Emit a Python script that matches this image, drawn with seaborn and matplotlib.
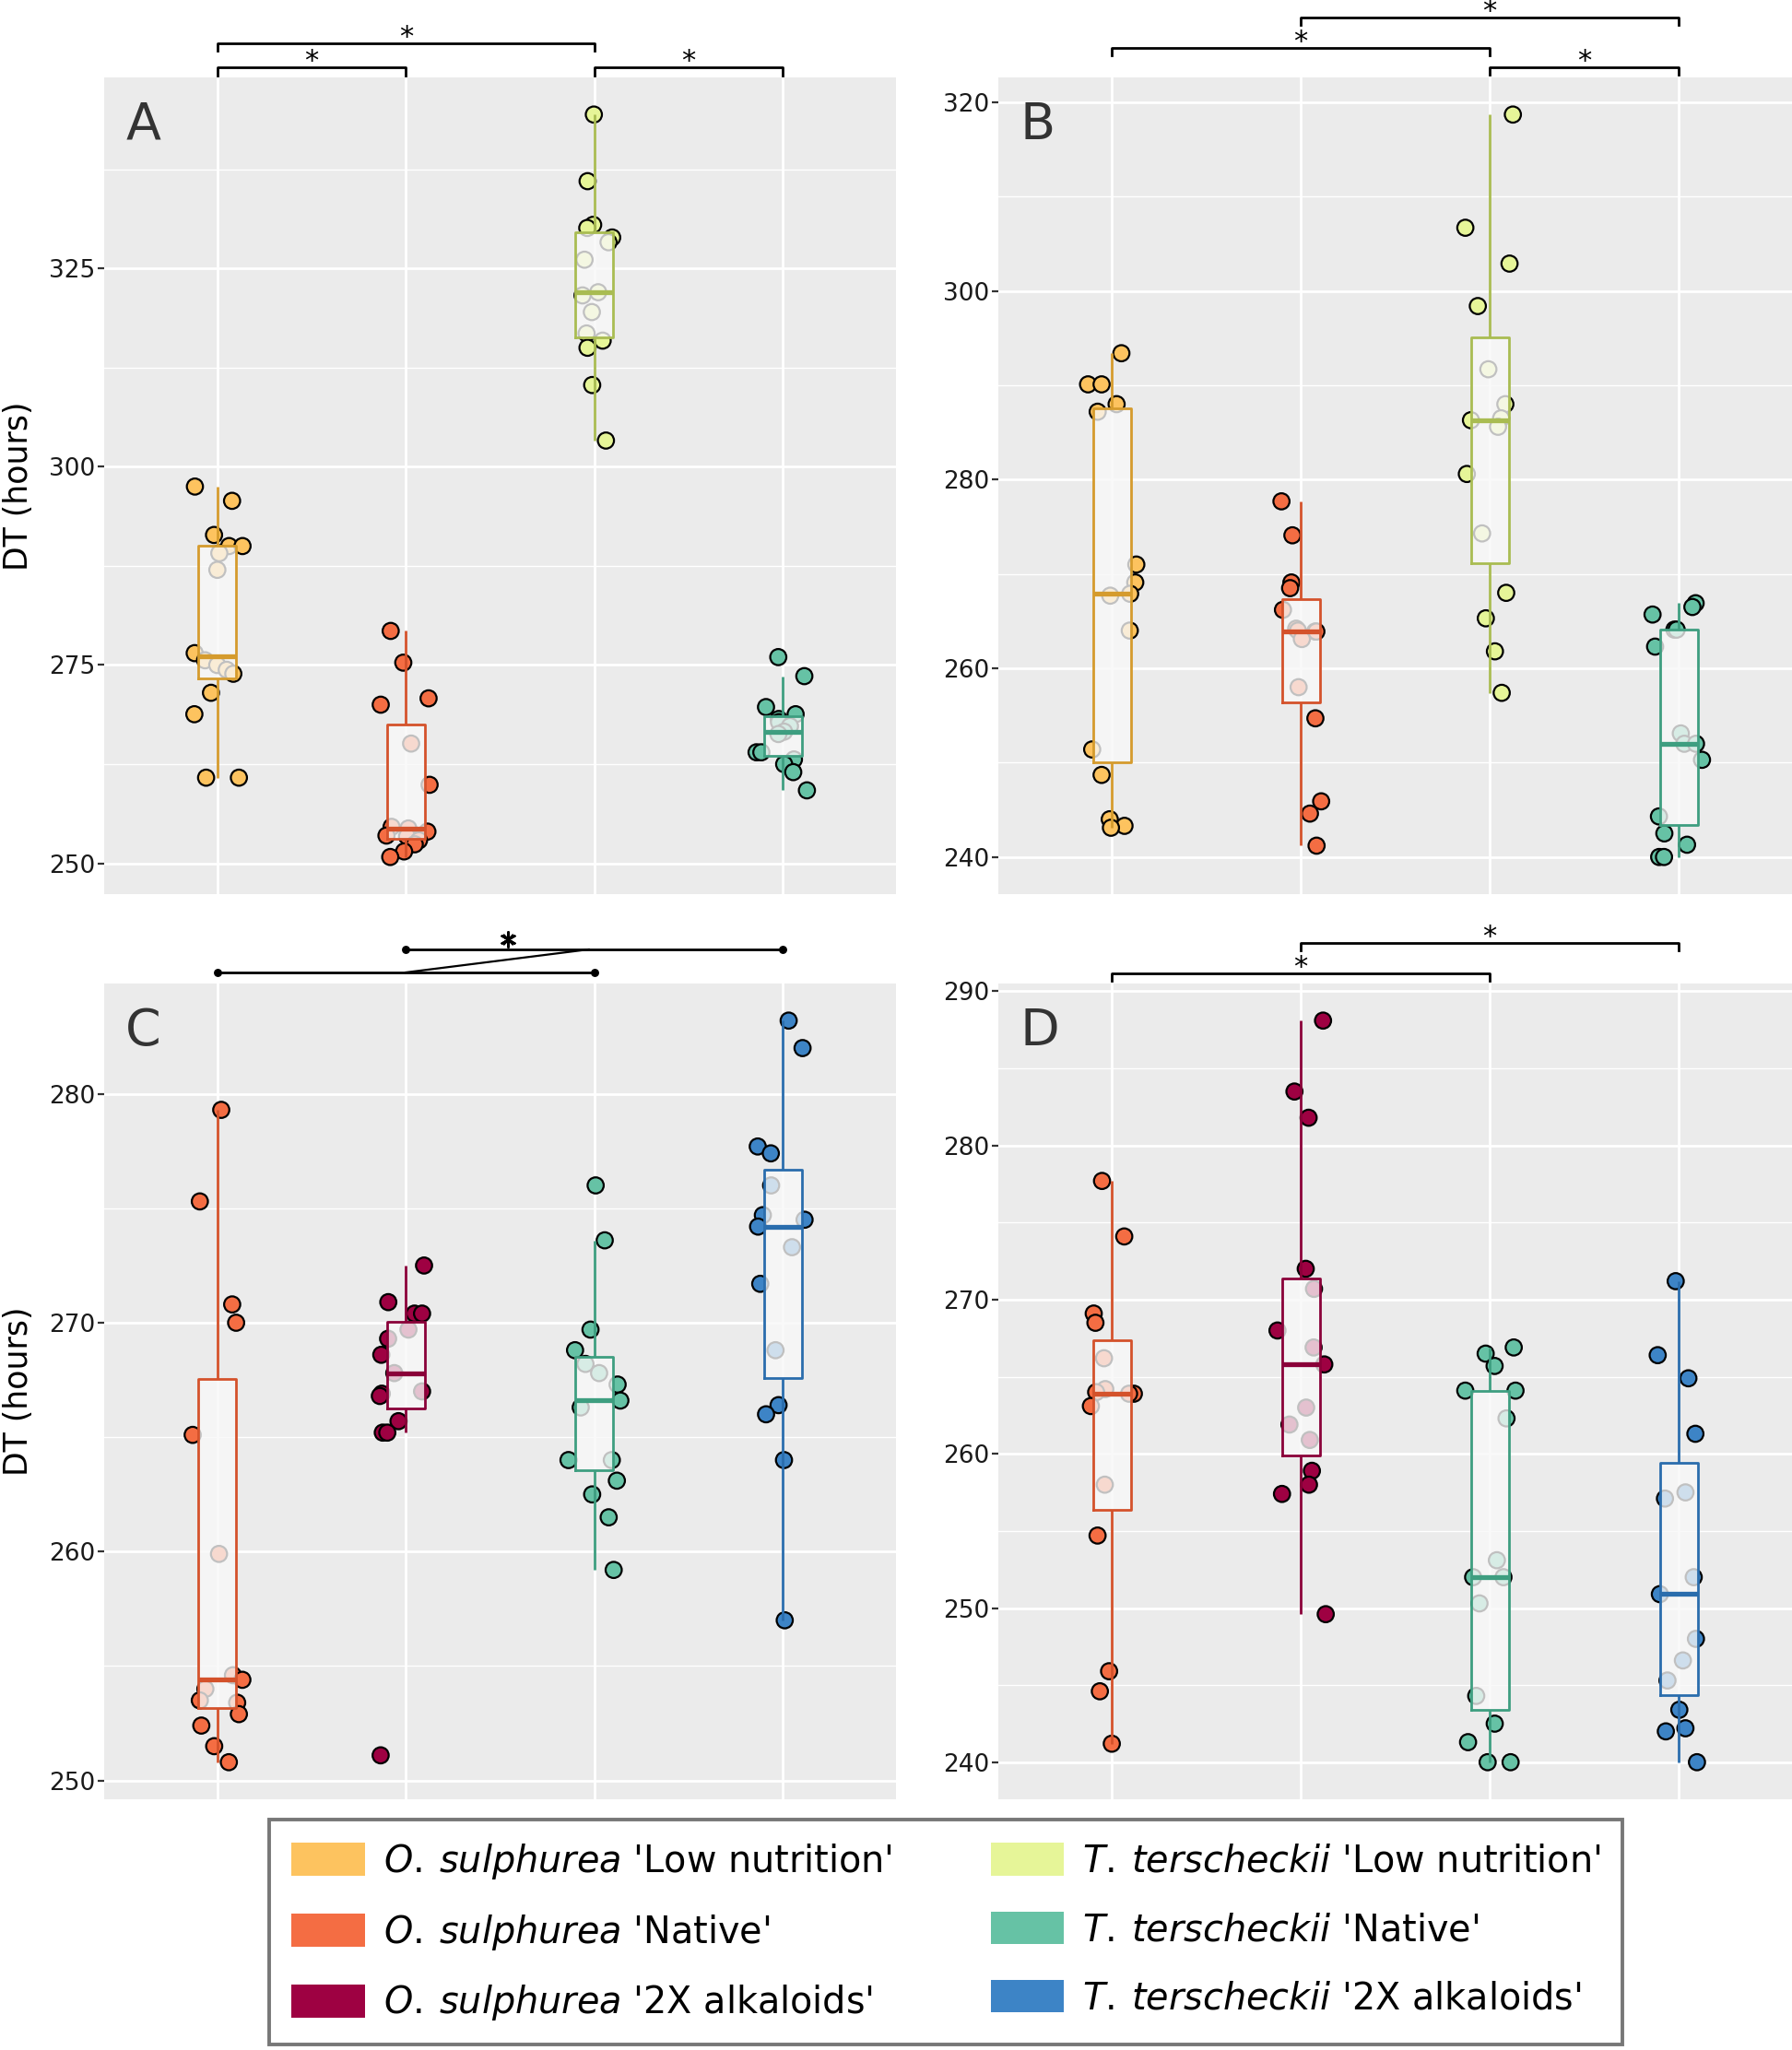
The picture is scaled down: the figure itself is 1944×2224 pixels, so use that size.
import numpy as np
import pandas as pd
import matplotlib.pyplot as plt
import matplotlib.transforms as mtransforms
from matplotlib.patches import Patch
from matplotlib.ticker import MultipleLocator
import seaborn as sns

np.random.seed(7)

# group names / colours
os_low = "O. sulphurea 'Low nutrition'"
os_nat = "O. sulphurea 'Native'"
os_2x = "O. sulphurea '2X alkaloids'"
tt_low = "T. terscheckii 'Low nutrition'"
tt_nat = "T. terscheckii 'Native'"
tt_2x = "T. terscheckii '2X alkaloids'"

fill_cols = {os_low: '#FDC35F', os_nat: '#F46D43', os_2x: '#9E0142',
             tt_low: '#E6F598', tt_nat: '#66C2A5', tt_2x: '#3D84C6'}
edge_cols = {os_low: '#D59B2D', os_nat: '#D4522B', os_2x: '#8A0039',
             tt_low: '#A9BC52', tt_nat: '#3E9E80', tt_2x: '#2A6DAD'}

# DT (hours), panels A / C
os_low_ac = [297.5, 295.7, 291.4, 290.0, 290.0, 289.1, 287.0, 276.5, 275.6, 275.0,
             274.4, 273.9, 271.5, 268.8, 260.8, 260.8]
os_nat_ac = [279.3, 275.3, 270.8, 270.0, 265.1, 259.9, 254.6, 254.4, 254.0, 253.5,
             253.4, 252.9, 252.4, 251.5, 250.8]
tt_low_ac = [344.4, 336.0, 330.5, 330.1, 328.9, 328.3, 326.1, 322.0, 321.6, 319.5,
             316.8, 315.9, 315.0, 310.3, 303.3]
tt_nat_ac = [276.0, 273.6, 269.7, 268.8, 268.2, 267.8, 267.3, 266.6, 266.3, 264.0,
             264.0, 263.1, 262.5, 261.5, 259.2]
os_2x_c = [272.5, 270.9, 270.4, 270.4, 269.7, 269.3, 268.6, 267.8, 267.0, 266.9,
           266.8, 265.7, 265.2, 265.2, 251.1]
tt_2x_c = [283.2, 282.0, 277.7, 277.4, 276.0, 274.7, 274.5, 274.2, 273.3, 271.7,
           268.8, 266.4, 266.0, 264.0, 257.0]

# DT (hours), panels B / D
os_low_bd = [293.4, 290.1, 290.1, 288.0, 287.2, 271.0, 269.1, 267.9, 267.7, 264.0,
             251.4, 248.7, 244.0, 243.3, 243.1]
os_nat_bd = [277.7, 274.1, 269.1, 268.5, 266.2, 264.2, 264.0, 263.9, 263.9, 263.1,
             258.0, 254.7, 245.9, 244.6, 241.2]
tt_low_bd = [318.7, 306.7, 302.9, 298.4, 291.7, 288.0, 286.5, 286.3, 285.6, 280.6,
             274.3, 268.0, 265.3, 261.8, 257.4]
tt_nat_bd = [266.9, 266.5, 265.7, 264.1, 264.1, 262.3, 253.1, 252.0, 252.0, 250.3,
             244.3, 242.5, 241.3, 240.0, 240.0]
os_2x_d = [288.1, 283.5, 281.8, 272.0, 270.7, 268.0, 266.9, 265.8, 263.0, 261.9,
           260.9, 258.9, 258.0, 257.4, 249.6]
tt_2x_d = [271.2, 266.4, 264.9, 261.3, 257.5, 257.1, 252.0, 250.9, 248.0, 246.6,
           245.3, 243.4, 242.2, 242.0, 240.0]

panels = {
    'A': [(os_low, os_low_ac), (os_nat, os_nat_ac), (tt_low, tt_low_ac), (tt_nat, tt_nat_ac)],
    'B': [(os_low, os_low_bd), (os_nat, os_nat_bd), (tt_low, tt_low_bd), (tt_nat, tt_nat_bd)],
    'C': [(os_nat, os_nat_ac), (os_2x, os_2x_c), (tt_nat, tt_nat_ac), (tt_2x, tt_2x_c)],
    'D': [(os_nat, os_nat_bd), (os_2x, os_2x_d), (tt_nat, tt_nat_bd), (tt_2x, tt_2x_d)],
}
steps = {'A': 25, 'B': 20, 'C': 10, 'D': 10}
# brackets: (x0, x1, y of bar in axes fraction)
brackets = {
    'A': [(0, 1, 1.0119), (0, 2, 1.0418), (2, 3, 1.0119)],
    'B': [(0, 2, 1.0361), (1, 3, 1.0734), (2, 3, 1.0124)],
    'D': [(0, 2, 1.0124), (1, 3, 1.0497)],
}

W, H = 1944, 2224
fig = plt.figure(figsize=(W / 200, H / 200), dpi=200)
plt.rcParams['font.family'] = 'DejaVu Sans'
plt.rcParams['mathtext.fontset'] = 'dejavusans'

boxes = {'A': [113, 84, 972, 970], 'B': [1083, 84, 1944, 970],
         'C': [113, 1067, 972, 1952], 'D': [1083, 1067, 1944, 1952]}

for name, groups in panels.items():
    x0, y0, x1, y1 = boxes[name]
    ax = fig.add_axes([x0 / W, 1 - y1 / H, (x1 - x0) / W, (y1 - y0) / H])
    order = [g for g, _ in groups]
    df = pd.concat([pd.DataFrame({'group': g, 'DT': v}) for g, v in groups], ignore_index=True)

    ax.set_facecolor('#EBEBEB')
    ax.set_axisbelow(True)

    sns.stripplot(data=df, x='group', y='DT', hue='group', order=order, hue_order=order,
                  palette=fill_cols, jitter=0.14, size=6.3, edgecolor='black', linewidth=0.8,
                  legend=False, zorder=2, ax=ax)
    # translucent fill of the boxes
    sns.boxplot(data=df, x='group', y='DT', order=order, color='#F8F8F8', width=0.2,
                showfliers=False, showcaps=False, linewidth=0,
                boxprops=dict(alpha=0.78), zorder=3, ax=ax)
    # coloured outlines
    sns.boxplot(data=df, x='group', y='DT', hue='group', order=order, hue_order=order,
                palette=edge_cols, fill=False, width=0.2, showfliers=False, showcaps=False,
                linewidth=1.0, medianprops=dict(linewidth=1.9), legend=False, zorder=4, ax=ax)

    lo, hi = df.DT.min(), df.DT.max()
    pad = (hi - lo) * 0.05
    ax.set_ylim(lo - pad, hi + pad)
    ax.set_xlim(-0.6, 3.6)
    ax.yaxis.set_major_locator(MultipleLocator(steps[name]))
    ax.yaxis.set_minor_locator(MultipleLocator(steps[name] / 2))
    ax.grid(which='major', color='white', linewidth=1.0)
    ax.grid(which='minor', axis='y', color='white', linewidth=0.5)
    for s in ax.spines.values():
        s.set_visible(False)
    ax.tick_params(axis='x', length=0, labelbottom=False)
    ax.tick_params(axis='y', which='major', length=2.5, width=0.8, color='#333333',
                   labelsize=9.5, labelcolor='#1A1A1A', pad=1)
    ax.tick_params(axis='y', which='minor', length=0)
    ax.set_xlabel('')
    if name in ('A', 'C'):
        ax.set_ylabel('DT (hours)', fontsize=12.5, va='center')
        ax.yaxis.set_label_coords(-0.108, 0.5)
    else:
        ax.set_ylabel('')

    ax.text(0.027, 0.972, name, transform=ax.transAxes, fontsize=20, va='top', ha='left',
            color='#333333')

    trans = mtransforms.blended_transform_factory(ax.transData, ax.transAxes)
    for a, b, yb in brackets.get(name, []):
        ax.plot([a, a, b, b], [yb - 0.0095, yb, yb, yb - 0.0095], color='black', lw=1.0,
                transform=trans, clip_on=False)
        ax.text((a + b) / 2, yb - 0.009, '*', transform=trans, ha='center', va='bottom',
                fontsize=11)
    if name == 'C':
        ax.plot([1, 3], [1.0418, 1.0418], color='black', lw=1.0, marker='o', ms=2.2,
                transform=trans, clip_on=False)
        ax.plot([0, 2], [1.0136, 1.0136], color='black', lw=1.0, marker='o', ms=2.2,
                transform=trans, clip_on=False)
        ax.plot([1.0, 1.97], [1.0136, 1.0418], color='black', lw=0.8,
                transform=trans, clip_on=False)
        ax.plot([1.54], [1.054], marker=(6, 2, 0), ms=6.5, mew=0.8, color='black',
                transform=trans, clip_on=False)
        ax.plot([1.54], [1.054], marker=(4, 2, 45), ms=5.5, mew=0.8, color='black',
                transform=trans, clip_on=False)

legend_order = [os_low, os_nat, os_2x, tt_low, tt_nat, tt_2x]
handles = [Patch(facecolor=fill_cols[g], edgecolor='none') for g in legend_order]
labels = []
for g in legend_order:
    sp, treat = g.split(" '")
    labels.append(r'$\mathit{' + sp.replace(' ', r'\:') + '}$' + " '" + treat)

leg = fig.legend(handles, labels, ncol=2, loc='center', bbox_to_anchor=(0.528, 0.0575),
                 fontsize=14.3, frameon=True, fancybox=False, edgecolor='#555555',
                 handlelength=2.0, handleheight=1.0, handletextpad=0.5,
                 labelspacing=0.85, columnspacing=2.7, borderpad=0.6)
leg.get_frame().set_linewidth(1.4)

fig.savefig('out.png', dpi=200, facecolor='white')
